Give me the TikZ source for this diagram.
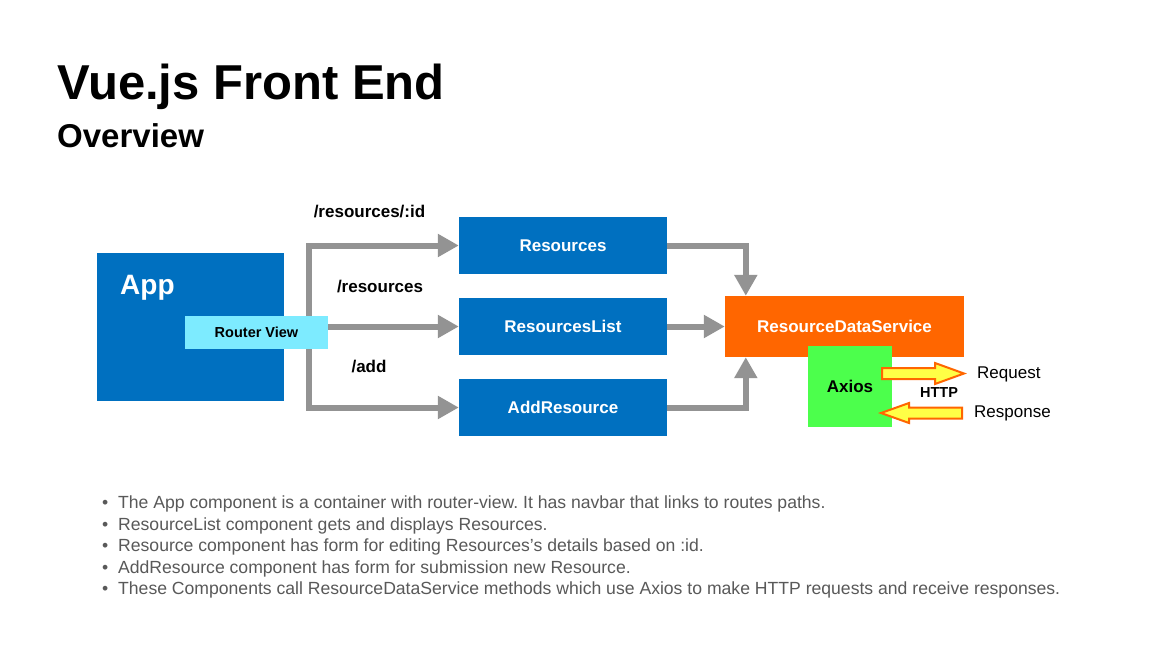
\documentclass[tikz,border=0pt]{standalone}
\usepackage{fontspec}
\setmainfont{Liberation Sans}
\usepackage{tikz}
\usetikzlibrary{arrows.meta, positioning, backgrounds}
\usepackage{xcolor}
\definecolor{vueblue}{RGB}{0, 112, 192}
\definecolor{routercyan}{RGB}{125, 235, 255}
\definecolor{svcorange}{RGB}{255, 102, 0}
\definecolor{axiosgreen}{RGB}{76, 255, 76}
\definecolor{linkgray}{RGB}{147, 147, 147}
\definecolor{httpyellow}{RGB}{255, 255, 70}
\definecolor{notegray}{RGB}{89, 89, 89}
\frenchspacing

\begin{document}
\begin{tikzpicture}[
    x=1pt, y=-1pt,
    comp/.style={fill=vueblue, minimum width=208pt, minimum height=57pt,
                 inner sep=0pt, text=white,
                 font=\fontsize{17}{20}\selectfont\bfseries},
    route/.style={inner sep=0pt, font=\fontsize{17}{20}\selectfont\bfseries},
    link/.style={-{Triangle[length=21pt, width=22pt]}, line width=6pt,
                 draw=linkgray},
    http/.style={fill=httpyellow, draw=svcorange, line width=2pt,
                 line join=miter},
  ]
    \begin{scope}[on background layer]
      \path[use as bounding box, fill=white] (0,0) rectangle (1164,653);
    \end{scope}

    % Title
    \node[anchor=base west, inner sep=0pt,
          font=\fontsize{49}{56}\selectfont\bfseries] (title) at (57,99)
      {Vue.js Front End};
    \node[anchor=base west, inner sep=0pt,
          font=\fontsize{33}{40}\selectfont\bfseries] (subtitle) at (57,147)
      {Overview};

    % App with router view
    \node[fill=vueblue, minimum width=187pt, minimum height=148pt,
          inner sep=0pt] (app) at (190.5,327) {};
    \node[anchor=west, inner sep=0pt, text=white,
          font=\fontsize{28}{32}\selectfont\bfseries] (applbl) at (120,288) {App};
    \node[fill=routercyan, minimum width=143pt, minimum height=33pt,
          inner sep=0pt, font=\fontsize{14.5}{17}\selectfont\bfseries]
      (rv) at (256.5,332) {Router View};
    \coordinate (fork) at (309,326.5);

    % Components
    \node[comp] (res) at (563,245.5) {Resources};
    \node[comp] (rlist) at (563,326.5) {ResourcesList};
    \node[comp] (add) at (563,407.5) {AddResource};

    % Routes
    \node[route] (r1) at (369.5,212) {/resources/:id};
    \node[route] (r2) at (380,287) {/resources};
    \node[route] (r3) at (369,367) {/add};

    % Service and Axios
    \node[fill=svcorange, minimum width=239pt, minimum height=61pt,
          inner sep=0pt, text=white, font=\fontsize{17}{20}\selectfont\bfseries]
      (rds) at (844.5,326.5) {ResourceDataService};
    \node[fill=axiosgreen, minimum width=84pt, minimum height=81pt,
          inner sep=0pt, font=\fontsize{17}{20}\selectfont\bfseries]
      (axios) at (850,386.5) {Axios};

    % Routing links
    \begin{scope}[on background layer]
      \draw[link] (fork) |- (res.west);
      \draw[link] (fork) |- (add.west);
    \end{scope}
    \draw[link] (rv.east |- rlist.west) -- (rlist.west);

    % Calls to the service
    \draw[link] (res.east) -| ([xshift=21pt]rds.north west);
    \draw[link] (rlist.east) -- (rds.west);
    \draw[link] (add.east) -| ([xshift=21pt]rds.south west);

    % HTTP request / response
    \draw[http] (882,368) -- (935,368) -- (935,363) -- (964,373.5)
      -- (935,384) -- (935,379) -- (882,379) -- cycle;
    \draw[http] (962,407.5) -- (909,407.5) -- (909,403) -- (881,413)
      -- (909,423) -- (909,418.5) -- (962,418.5) -- cycle;
    \node[anchor=west, inner sep=0pt, font=\fontsize{17}{20}\selectfont]
      (req) at (977,374) {Request};
    \node[anchor=west, inner sep=0pt, font=\fontsize{17}{20}\selectfont]
      (resp) at (974,413) {Response};
    \node[inner sep=0pt, font=\fontsize{14.5}{17}\selectfont\bfseries]
      (httplbl) at (939,393) {HTTP};

    % Notes
    \node[anchor=north west, inner sep=0pt, align=left, text=notegray,
          font=\fontsize{17.6}{21.5}\selectfont] (notes) at (102,496) {
      \makebox[16pt][l]{\textbullet}The App component is a container with router-view. It has navbar that links to routes paths.\\
      \makebox[16pt][l]{\textbullet}ResourceList component gets and displays Resources.\\
      \makebox[16pt][l]{\textbullet}Resource component has form for editing Resources’s details based on :id.\\
      \makebox[16pt][l]{\textbullet}AddResource component has form for submission new Resource.\\
      \makebox[16pt][l]{\textbullet}These Components call ResourceDataService methods which use Axios to make HTTP requests and receive responses.
    };
  \end{tikzpicture}
\end{document}
